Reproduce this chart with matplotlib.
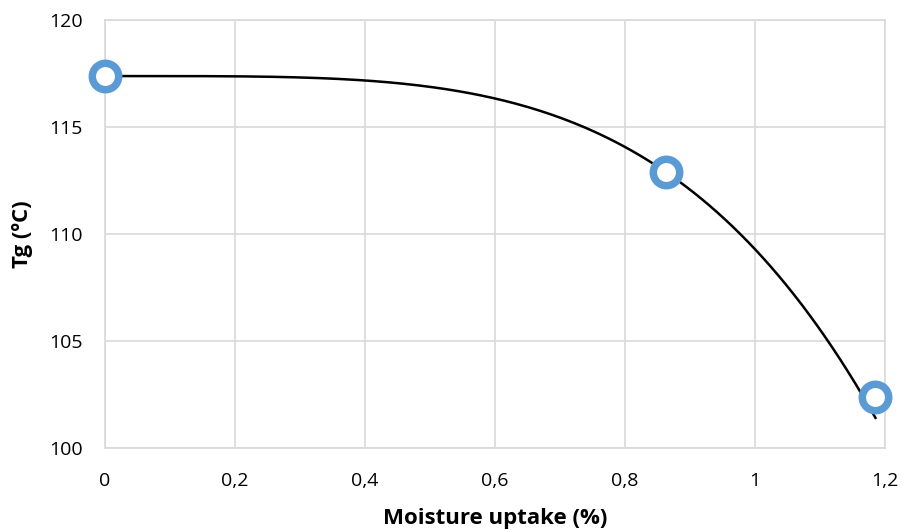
import numpy as np
import matplotlib
matplotlib.use("Agg")
import matplotlib.pyplot as plt
from matplotlib.ticker import FuncFormatter, MultipleLocator

plt.rcParams['font.family'] = ['Open Sans', 'DejaVu Sans']

# measured points
moisture = [0.0, 0.863, 1.185]
tg = [117.38, 112.9, 102.38]

# trendline: y = a - b * x^4
trend_a = 117.38
trend_b = 8.1
trend_end = 1.185

fig = plt.figure(figsize=(9.03, 5.30), dpi=100)
ax = fig.add_axes([0.1163, 0.1547, 0.8640, 0.8076])

xs = np.linspace(0, trend_end, 200)
ax.plot(xs, trend_a - trend_b * xs**4, color="black", lw=1.8, zorder=2)
ax.plot(moisture, tg, linestyle="none", marker="o", ms=19, mew=5.4,
        mfc="white", mec="#5b9bd5", zorder=3, clip_on=False)

ax.set_xlim(0, 1.2)
ax.set_ylim(100, 120)
ax.xaxis.set_major_locator(MultipleLocator(0.2))
ax.yaxis.set_major_locator(MultipleLocator(5))

def comma(v, pos):
    s = "%g" % round(v, 2)
    return s.replace(".", ",")

ax.xaxis.set_major_formatter(FuncFormatter(comma))
ax.grid(True, color="#d9d9d9", lw=1.2, zorder=0)
ax.set_axisbelow(True)
for s in ax.spines.values():
    s.set_color("#d9d9d9")
    s.set_linewidth(1.2)
ax.tick_params(axis="x", length=0, labelsize=14, pad=17)
ax.tick_params(axis="y", length=0, labelsize=14, pad=16)

ax.set_xlabel("Moisture uptake (%)", fontsize=16, fontweight="bold", labelpad=13)
ax.set_ylabel("Tg (ºC)", fontsize=16, fontweight="bold", labelpad=12)

fig.savefig("out.png", dpi=100)
